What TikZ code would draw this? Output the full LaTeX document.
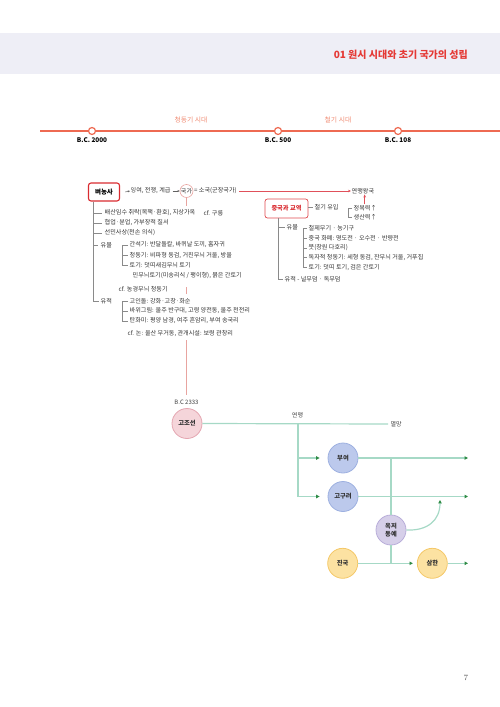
\documentclass[tikz,border=0pt]{standalone}
\usepackage{fontspec}
\newfontfamily\kr{Noto Sans CJK KR}
\usetikzlibrary{arrows.meta}
\definecolor{hdr}{HTML}{EEEEF6}
\definecolor{ttl}{HTML}{E53935}
\definecolor{tline}{HTML}{EE6A52}
\definecolor{tlab}{HTML}{F08C74}
\definecolor{boxred}{HTML}{D92B30}
\definecolor{pinkln}{HTML}{E8A4A0}
\definecolor{arrred}{HTML}{E0505A}
\definecolor{grn}{HTML}{A6D9C6}
\definecolor{grntip}{HTML}{2E8B45}
\definecolor{pinkf}{HTML}{F5D5DA}
\definecolor{pinkd}{HTML}{E4A6B1}
\definecolor{bluef}{HTML}{BCC9EC}
\definecolor{blued}{HTML}{9DB0E0}
\definecolor{lavf}{HTML}{D6CFE9}
\definecolor{lavd}{HTML}{B8ADD9}
\definecolor{yelf}{HTML}{FCE2A2}
\definecolor{yeld}{HTML}{F4C868}
\definecolor{treeln}{HTML}{8A8A8A}
\begin{document}
\begin{tikzpicture}[x=1pt,y=-1pt,
  txt/.style={font=\kr\fontsize{6.1}{7}\selectfont, anchor=west, inner sep=0.5pt, text=black!80},
  tree/.style={draw=treeln, line width=0.5pt},
  tick/.style={circle, draw=tline, fill=white, line width=1.2pt, minimum size=7pt, inner sep=0pt},
  bclab/.style={font=\kr\bfseries\fontsize{6.4}{7}\selectfont, anchor=north, inner sep=0.5pt},
  eralab/.style={font=\kr\fontsize{6.8}{8}\selectfont, text=tlab, inner sep=0.5pt},
  state/.style={circle, minimum size=30pt, inner sep=0pt, line width=0.8pt, font=\kr\bfseries\fontsize{6.3}{7.5}\selectfont, align=center, text=black!80},
  gl/.style={draw=grn, line width=1.2pt},
  gtip/.style={-{Triangle[length=3.4pt,width=3.4pt,color=grntip]}},
  small/.style={font=\kr\fontsize{6}{7}\selectfont, inner sep=0.5pt, text=black!75},
]
\useasboundingbox (0,0) rectangle (500,707);
% header
\fill[hdr] (0,33) rectangle (500,74);
\node[anchor=east, font=\kr\bfseries\fontsize{10}{12}\selectfont, text=ttl, inner sep=0] (title) at (468,55) {01 원시 시대와 초기 국가의 성립};
% timeline
\draw[tline, line width=2.2pt] (40,131) -- (500,131);
\node[tick] (t1) at (92,131) {};
\node[tick] (t2) at (278,131) {};
\node[tick] (t3) at (398,131) {};
\node[bclab] (l1) at (92,136.5) {B.C. 2000};
\node[bclab] (l2) at (278,136.5) {B.C. 500};
\node[bclab] (l3) at (398,136.5) {B.C. 108};
\node[eralab] (era1) at (191,120) {청동기 시대};
\node[eralab] (era2) at (338,120) {철기 시대};
% top chain
\node[draw=boxred, line width=1.1pt, rounded corners=2.5pt, minimum width=31pt, minimum height=18pt, inner sep=0pt, font=\kr\bfseries\fontsize{6.5}{7}\selectfont] (byeo) at (104,192) {벼농사};
\node[txt] (ing) at (130,191) {잉여, 전쟁, 계급};
\node[circle, draw=pinkln, line width=0.6pt, minimum size=13pt, inner sep=0pt, font=\kr\fontsize{6}{7}\selectfont, text=black!80] (gukga) at (186.5,191) {국가};
\node[txt] (sogukn) at (193.5,191) {= 소국(군장국가)};
\node[txt] (yeonm) at (351,191) {연맹왕국};
\draw[treeln!70!black, line width=0.5pt, -{Stealth[length=2.3pt,width=2pt]}] ([xshift=5pt]byeo.east) -- (ing.west);
\draw[treeln!70!black, line width=0.5pt, -{Stealth[length=2.3pt,width=2pt]}] ([xshift=1.5pt]ing.east) -- (gukga.west);
\draw[arrred, line width=0.6pt, -{Stealth[length=3pt,width=2.6pt]}] ([xshift=2pt]sogukn.east) -- (yeonm.west);
% left list
\node[txt] (r1) at (104,213) {배산임수 취락(목책·환호), 지상가옥};
\node[txt] (r1b) at (203,213) {cf. 구릉};
\node[txt] (r2) at (104,223) {협업·분업, 가부장적 질서};
\node[txt] (r3) at (104,233) {선민사상(천손 의식)};
\node[txt] (yumul) at (100,245) {유물};
\node[txt] (m1) at (129,245) {간석기: 반달돌칼, 바퀴날 도끼, 홈자귀};
\node[txt] (m2) at (129,255.5) {청동기: 비파형 동검, 거친무늬 거울, 방울};
\node[txt] (m3) at (129,265.5) {토기: 덧띠새김무늬 토기};
\node[txt] (m4) at (132,276) {민무늬토기(미송리식 / 팽이형), 붉은 간토기};
\node[txt] (m5) at (118,289) {cf. 농경무늬 청동기};
\node[txt] (yujeok) at (100,301) {유적};
\node[txt] (s1) at (129,301) {고인돌: 강화·고창·화순};
\node[txt] (s2) at (129,311) {바위그림: 울주 반구대, 고령 양전동, 울주 천전리};
\node[txt] (s3) at (129,321) {탄화미: 평양 남경, 여주 흔암리, 부여 송국리};
\node[txt] (s4) at (127,334) {cf. 논: 울산 무거동, 관개시설: 보령 관창리};
\draw[tree] ([xshift=5.5pt]byeo.south west) |- ([xshift=-1pt]yujeok.west);
\foreach \n in {r1,r2,r3,yumul}{\draw[tree] (94,0 |- \n.west) -- ([xshift=-2pt]\n.west);}
\draw[tree] ([xshift=-1pt]m1.west) -| (122.5,0 |- m3.west) -- ([xshift=-1pt]m3.west);
\draw[tree] (122.5,0 |- m2.west) -- ([xshift=-1pt]m2.west);
\draw[tree] ([xshift=-1pt]s1.west) -| (122.5,0 |- s3.west) -- ([xshift=-1pt]s3.west);
\draw[tree] (122.5,0 |- s2.west) -- ([xshift=-1pt]s2.west);
% right block
\node[draw=boxred!85, line width=0.7pt, rounded corners=2.5pt, minimum width=43pt, minimum height=19pt, inner sep=0pt, text=boxred, font=\kr\bfseries\fontsize{6.2}{7}\selectfont] (china) at (286.5,208.5) {중국과 교역};
\node[txt] (cheol) at (314,207.5) {철기 유입};
\node[txt] (jb) at (353,208) {정복력↑};
\node[txt] (ss) at (353,217.5) {생산력↑};
\draw[tree] (china.east |- cheol.west) -- ([xshift=-1pt]cheol.west);
\draw[tree] ([xshift=-1pt]jb.west) -| (348,0 |- ss.west) -- ([xshift=-1pt]ss.west);
\draw[arrred, line width=0.6pt, -{Stealth[length=3pt,width=2.6pt]}] ([xshift=-0.5pt]jb.north) -- ([xshift=-0.5pt]jb.north |- yeonm.south);
\node[txt] (ryumul) at (286,227.5) {유물};
\node[txt] (q1) at (308,228) {철제무기 · 농기구};
\node[txt] (q2) at (308,238) {중국 화폐: 명도전 · 오수전 · 반량전};
\node[txt] (q3) at (308,248) {붓(창원 다호리)};
\node[txt] (q4) at (308,257.5) {독자적 청동기: 세형 동검, 잔무늬 거울, 거푸집};
\node[txt] (q5) at (308,267.5) {토기: 덧띠 토기, 검은 간토기};
\node[txt] (ryujeok) at (284,279) {유적 - 널무덤 · 독무덤};
\draw[tree] ([xshift=-8.5pt]china.south) |- ([xshift=-1pt]ryujeok.west);
\draw[tree] (278,0 |- ryumul.west) -- ([xshift=-1pt]ryumul.west);
\draw[tree] ([xshift=-1pt]q1.west) -| (303,0 |- q5.west) -- ([xshift=-1pt]q5.west);
\foreach \n in {q2,q3,q4}{\draw[tree] (303,0 |- \n.west) -- ([xshift=-1pt]\n.west);}
% lower diagram
\node[small] (bc2333) at (186.5,402) {B.C 2333};
\draw[pinkln, line width=0.6pt, dash pattern=on 8.5pt off 81pt on 7pt off 46pt on 120pt, shorten >=4pt] (gukga.south) -- (bc2333.north);
\node[state, fill=pinkf, draw=pinkd] (gojo) at (187,423.5) {고조선};
\node[small] (yeon) at (297.5,415) {연맹};
\node[small, anchor=west] (myeol) at (390,424) {멸망};
\node[state, fill=bluef, draw=blued] (buyeo) at (343,458) {부여};
\node[state, fill=bluef, draw=blued] (gogu) at (343,496.5) {고구려};
\node[state, fill=lavf, draw=lavd] (okjeo) at (391,530) {옥저\\동예};
\node[state, fill=yelf, draw=yeld] (jinguk) at (342.7,563.3) {진국};
\node[state, fill=yelf, draw=yeld] (samhan) at (432.3,563.3) {삼한};
\coordinate (j1) at (298,424);
\coordinate (e1) at (468,458);
\coordinate (e2) at (468,496.5);
\coordinate (e3) at (468,563.3);
\coordinate (cv) at (440,500);
\draw[gl] (gojo.east) -- ([xshift=-2pt]myeol.west);
\draw[gl] (j1) -- (298,496.5);
\draw[gl, gtip, shorten >=8pt] (298,458) -- (buyeo.west);
\draw[gl, gtip, shorten >=8pt] (298,496.5) -- (gogu.west);
\draw[gl, gtip] (buyeo.east) -- (e1);
\draw[gl, gtip] (gogu.east) -- (e2);
\draw[gl] (391,458) -- (okjeo.north);
\draw[gl, gtip] (okjeo.east) .. controls (428,531) and (440,520) .. (cv);
\draw[gl] (okjeo.south) -- (391,563.3);
\draw[gl, gtip, shorten >=4pt] (jinguk.east) -- (samhan.west);
\draw[gl, gtip] (samhan.east) -- (e3);
% page number
\node[font=\fontsize{8}{9}\selectfont, text=black!70] (pg) at (466,678) {7};
\end{tikzpicture}
\end{document}
